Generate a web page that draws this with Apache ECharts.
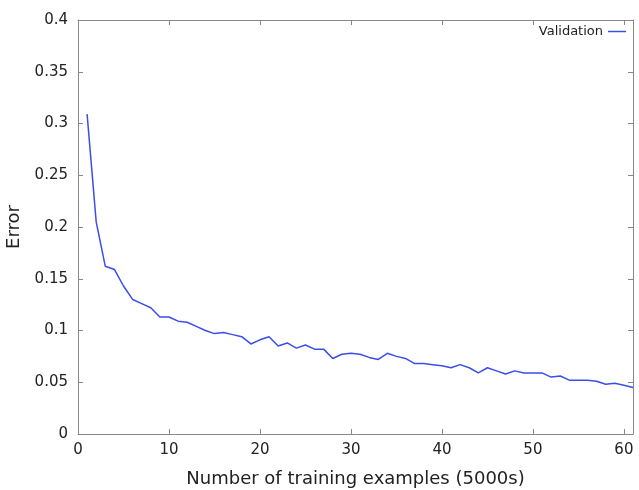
<!DOCTYPE html>
<html>
<head>
	<meta charset="utf-8">
	<title>Validation error</title>
	<script src="https://cdn.jsdelivr.net/npm/echarts@6/dist/echarts.min.js"></script>
	<style type="text/css">
		html, body { margin: 0; padding: 0; background: #fff; }
		#main { width: 639px; height: 490px; }
	</style>
</head>
<body>
	<div id="main"></div>
	<script type="text/javascript">
		// training set size, in units of 5000 examples
		var examples = [];
		for (var i = 1; i <= 61; i++) { examples.push(i); }

		// validation error
		var validationError = [
			0.309, 0.205, 0.162, 0.159, 0.143, 0.130, 0.126, 0.122, 0.113, 0.113,
			0.109, 0.108, 0.104, 0.100, 0.097, 0.098, 0.096, 0.094, 0.087, 0.091,
			0.094, 0.085, 0.088, 0.083, 0.086, 0.082, 0.082, 0.073, 0.077, 0.078,
			0.077, 0.074, 0.072, 0.078, 0.075, 0.073, 0.068, 0.068, 0.067, 0.066,
			0.064, 0.067, 0.064, 0.059, 0.064, 0.061, 0.058, 0.061, 0.059, 0.059,
			0.059, 0.055, 0.056, 0.052, 0.052, 0.052, 0.051, 0.048, 0.049, 0.047,
			0.045
		];

		var points = [];
		for (var k = 0; k < examples.length; k++) {
			points.push([examples[k], validationError[k]]);
		}

		var labelFont = { fontFamily: 'DejaVu Sans', fontSize: 15, color: '#222' };
		var frame = { show: true, onZero: false, lineStyle: { color: '#888', width: 1 } };
		var ticks = { show: true, inside: true, length: 5, lineStyle: { color: '#888' } };

		var myChart = echarts.init(document.getElementById('main'));
		var option = {
			animation: false,
			grid: { left: 78, right: 6, top: 20, bottom: 56, outerBoundsMode: 'none' },
			legend: {
				data: ['Validation'],
				right: 8,
				top: 20,
				align: 'right',
				icon: 'rect',
				itemWidth: 18,
				itemHeight: 1.5,
				itemGap: 4,
				textStyle: { fontFamily: 'DejaVu Sans', fontSize: 13, color: '#222' }
			},
			xAxis: [{
				type: 'value',
				min: 0, max: 61, interval: 10,
				name: 'Number of training examples (5000s)',
				nameLocation: 'middle',
				nameGap: 36,
				nameTextStyle: { fontFamily: 'DejaVu Sans', fontSize: 18, color: '#222' },
				axisLine: frame,
				axisTick: ticks,
				splitLine: { show: false },
				axisLabel: Object.assign({ showMaxLabel: false, margin: 9 }, labelFont)
			}, {
				type: 'value', position: 'top',
				min: 0, max: 61, interval: 10,
				axisLine: frame,
				axisTick: ticks,
				splitLine: { show: false },
				axisLabel: { show: false }
			}],
			yAxis: [{
				type: 'value',
				min: 0, max: 0.4, interval: 0.05,
				name: 'Error',
				nameLocation: 'middle',
				nameGap: 50,
				nameTextStyle: { fontFamily: 'DejaVu Sans', fontSize: 18, color: '#222' },
				axisLine: frame,
				axisTick: ticks,
				splitLine: { show: false },
				axisLabel: Object.assign({ margin: 10 }, labelFont)
			}, {
				type: 'value', position: 'right',
				min: 0, max: 0.4, interval: 0.05,
				axisLine: frame,
				axisTick: ticks,
				splitLine: { show: false },
				axisLabel: { show: false }
			}],
			series: [{
				name: 'Validation',
				type: 'line',
				data: points,
				showSymbol: false,
				symbol: 'none',
				lineStyle: { color: '#3a4ee8', width: 1.5 },
				itemStyle: { color: '#3a4ee8' }
			}]
		};
		myChart.setOption(option);
	</script>
</body>
</html>
